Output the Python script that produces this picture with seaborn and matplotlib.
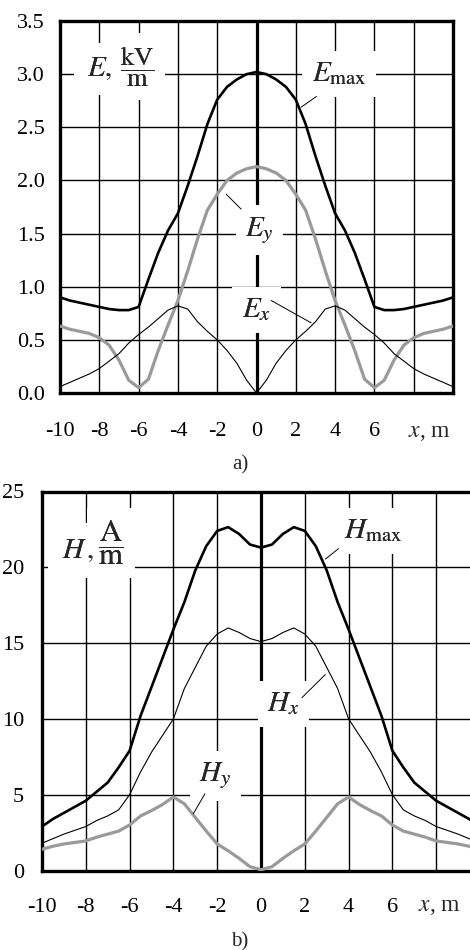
import numpy as np
import pandas as pd
import matplotlib
matplotlib.use("Agg")
import matplotlib.pyplot as plt
import seaborn as sns

# ---- data ----
x_m = [-10, -9.5, -9, -8.5, -8, -7.5, -7, -6.5, -6, -5.5, -5, -4.5, -4, -3.5, -3, -2.5, -2, -1.5, -1, -0.5,
       0, 0.5, 1, 1.5, 2, 2.5, 3, 3.5, 4, 4.5, 5, 5.5, 6, 6.5, 7, 7.5, 8, 8.5, 9, 9.5, 10]

# a) electric field, kV/m
e_max = [0.90, 0.87, 0.85, 0.83, 0.81, 0.79, 0.78, 0.78, 0.81, 1.07, 1.32, 1.53, 1.69, 1.95, 2.23, 2.53, 2.76, 2.88, 2.95, 3.00,
         3.02, 3.00, 2.95, 2.88, 2.76, 2.53, 2.23, 1.95, 1.69, 1.53, 1.32, 1.07, 0.81, 0.78, 0.78, 0.79, 0.81, 0.83, 0.85, 0.87, 0.90]
e_y = [0.63, 0.60, 0.58, 0.56, 0.52, 0.45, 0.31, 0.12, 0.05, 0.13, 0.40, 0.64, 0.87, 1.15, 1.45, 1.72, 1.87, 2.00, 2.07, 2.11,
       2.13, 2.11, 2.07, 2.00, 1.87, 1.72, 1.45, 1.15, 0.87, 0.64, 0.40, 0.13, 0.05, 0.12, 0.31, 0.45, 0.52, 0.56, 0.58, 0.60, 0.63]
e_x = [0.06, 0.10, 0.14, 0.18, 0.23, 0.30, 0.37, 0.47, 0.55, 0.62, 0.70, 0.78, 0.82, 0.79, 0.67, 0.58, 0.50, 0.40, 0.28, 0.12,
       0.00, 0.12, 0.28, 0.40, 0.50, 0.58, 0.67, 0.79, 0.82, 0.78, 0.70, 0.62, 0.55, 0.47, 0.37, 0.30, 0.23, 0.18, 0.14, 0.10, 0.06]

# b) magnetic field, A/m
h_max = [2.9, 3.4, 3.8, 4.2, 4.6, 5.2, 5.8, 6.8, 7.9, 10.2, 12.1, 14.0, 15.9, 17.7, 19.8, 21.4, 22.4, 22.65, 22.2, 21.5,
         21.3, 21.5, 22.2, 22.65, 22.4, 21.4, 19.8, 17.7, 15.9, 14.0, 12.1, 10.2, 7.9, 6.8, 5.8, 5.2, 4.6, 4.2, 3.8, 3.4, 2.9]
h_x = [1.8, 2.1, 2.4, 2.65, 2.9, 3.3, 3.6, 4.0, 5.0, 6.5, 7.8, 8.9, 10.0, 12.0, 13.4, 14.8, 15.6, 16.0, 15.7, 15.3,
       15.1, 15.3, 15.7, 16.0, 15.6, 14.8, 13.4, 12.0, 10.0, 8.9, 7.8, 6.5, 5.0, 4.0, 3.6, 3.3, 2.9, 2.65, 2.4, 2.1, 1.8]
h_y = [1.4, 1.6, 1.75, 1.85, 1.95, 2.2, 2.4, 2.6, 3.0, 3.6, 3.95, 4.35, 4.85, 4.4, 3.5, 2.6, 1.75, 1.3, 0.8, 0.25,
       0.05, 0.25, 0.8, 1.3, 1.75, 2.6, 3.5, 4.4, 4.85, 4.35, 3.95, 3.6, 3.0, 2.6, 2.4, 2.2, 1.95, 1.85, 1.75, 1.6, 1.4]

x_tick_labels = ["-10", "-8", "-6", "-4", "-2", "0", "2", "4", "6", "", ""]
e_ticks = [0.0, 0.5, 1.0, 1.5, 2.0, 2.5, 3.0, 3.5]
h_ticks = [0, 5, 10, 15, 20, 25]

sns.set_theme(style="white")
plt.rcParams["font.family"] = ["Liberation Serif", "DejaVu Serif"]
plt.rcParams["mathtext.fontset"] = "stix"
plt.rcParams["axes.unicode_minus"] = False

GRAY = "#9a9a9a"

fig = plt.figure(figsize=(4.7, 9.5), dpi=100)
ax_e = fig.add_axes([60 / 470, 1 - 393 / 950, 393 / 470, 372 / 950])
ax_h = fig.add_axes([42 / 470, 1 - 870.5 / 950, 438 / 470, 379 / 950])

df_e = pd.DataFrame({"x": x_m, "Emax": e_max, "Ey": e_y, "Ex": e_x})
df_h = pd.DataFrame({"x": x_m, "Hmax": h_max, "Hx": h_x, "Hy": h_y})


def boxed_label(ax, x, y, s, size, pad=7, va="center"):
    # white box hides the grid behind the label, glyphs redrawn on top
    ax.text(x, y, s, fontsize=size, ha="center", va=va, zorder=3,
            bbox=dict(facecolor="white", edgecolor="none", pad=pad))
    ax.text(x, y, s, fontsize=size, ha="center", va=va, zorder=3.5)


def style_axis(ax, yticks, ylim, yfmt):
    ax.set_xlim(-10, 10)
    ax.set_ylim(*ylim)
    ax.set_xticks(range(-10, 11, 2))
    ax.set_xticklabels(x_tick_labels)
    ax.set_yticks(yticks)
    ax.set_yticklabels([yfmt.format(v) for v in yticks])
    ax.grid(True, color="black", linewidth=1.0)
    ax.set_axisbelow(True)
    ax.axvline(0, color="black", linewidth=2.3, zorder=1.5)
    ax.tick_params(axis="both", length=0, labelsize=16, colors="black")
    ax.tick_params(axis="x", pad=21)
    ax.tick_params(axis="y", pad=11)
    for s in ax.spines.values():
        s.set_color("black")
        s.set_linewidth(2.4)
    ax.set_xlabel("")
    ax.set_ylabel("")


# ---- a) electric field ----
sns.lineplot(data=df_e, x="x", y="Emax", ax=ax_e, color="black", linewidth=1.9, zorder=4)
sns.lineplot(data=df_e, x="x", y="Ey", ax=ax_e, color=GRAY, linewidth=2.3, zorder=4)
sns.lineplot(data=df_e, x="x", y="Ex", ax=ax_e, color="black", linewidth=0.8, zorder=4)
style_axis(ax_e, e_ticks, (0, 3.5), "{:.1f}")

boxed_label(ax_e, -8.0, 2.98, r"$E,$", 21, pad=9, va="baseline")
boxed_label(ax_e, -6.1, 3.07, r"$\dfrac{\mathrm{kV}}{\mathrm{m}}$", 19, pad=8)
boxed_label(ax_e, 4.2, 3.0, r"$E_{\mathrm{max}}$", 21)
ax_e.plot([3.05, 2.28], [2.79, 2.69], color="black", linewidth=0.7, zorder=4)
boxed_label(ax_e, 0.15, 1.53, r"$E_y$", 21)
ax_e.plot([-1.54, -0.78], [1.87, 1.73], color="black", linewidth=0.7, zorder=4)
boxed_label(ax_e, 0.0, 0.78, r"$E_x$", 21)
ax_e.plot([0.75, 2.78], [0.87, 0.66], color="black", linewidth=0.7, zorder=4)
ax_e.text(8.8, -0.105, r"$x$, m", fontsize=17, ha="center", va="center",
          transform=ax_e.get_xaxis_transform())

# ---- b) magnetic field ----
sns.lineplot(data=df_h, x="x", y="Hmax", ax=ax_h, color="black", linewidth=1.9, zorder=4)
sns.lineplot(data=df_h, x="x", y="Hx", ax=ax_h, color="black", linewidth=0.8, zorder=4)
sns.lineplot(data=df_h, x="x", y="Hy", ax=ax_h, color=GRAY, linewidth=2.3, zorder=4)
style_axis(ax_h, h_ticks, (0, 25), "{:d}")
ax_h.tick_params(axis="y", pad=13)
ax_h.tick_params(axis="x", pad=20)

boxed_label(ax_h, -8.35, 20.6, r"$H\,,$", 21, pad=10, va="baseline")
boxed_label(ax_h, -6.85, 21.6, r"$\dfrac{\mathrm{A}}{\mathrm{m}}$", 22, pad=8)
boxed_label(ax_h, 5.13, 22.4, r"$H_{\mathrm{max}}$", 21)
ax_h.plot([3.54, 2.94], [21.23, 20.54], color="black", linewidth=0.7, zorder=4)
boxed_label(ax_h, 1.02, 11.0, r"$H_x$", 21)
ax_h.plot([1.87, 2.94], [11.4, 12.93], color="black", linewidth=0.7, zorder=4)
boxed_label(ax_h, -2.09, 6.26, r"$H_y$", 21)
ax_h.plot([-2.56, -3.09], [5.06, 3.75], color="black", linewidth=0.7, zorder=4)
ax_h.text(8.14, -0.096, r"$x$, m", fontsize=17, ha="center", va="center",
          transform=ax_h.get_xaxis_transform())

fig.text(240 / 470, 1 - 465 / 950, "a)", fontsize=15, ha="center", va="center")
fig.text(240 / 470, 1 - 942 / 950, "b)", fontsize=15, ha="center", va="center")

fig.savefig("out.png", dpi=100)
